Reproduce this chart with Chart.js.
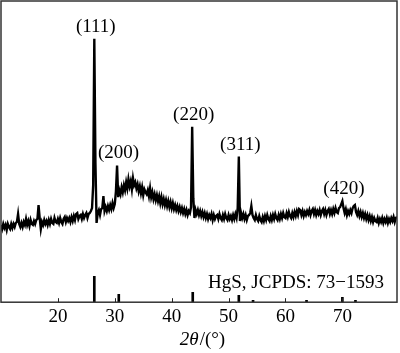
<!DOCTYPE html>
<html><head><meta charset="utf-8">
<script src="https://cdn.jsdelivr.net/npm/chart.js@4"></script>
<style>html,body{margin:0;padding:0;background:#fff}</style>
</head><body>
<canvas id="c" width="400" height="353"></canvas>
<script>
// 2-theta grid of the measured pattern
const angleStart = 10, angleStep = 0.2;
// measured intensity (a.u.), one value per 0.2 deg from 10 to 80 deg
const intensity = [
 78,74,79,75,78,73,79,76,74,79,
 75,79,76,80,81,89,79,76,80,76,
 81,78,84,78,82,77,83,79,78,82,
 79,83,84,98,85,74,81,78,83,79,
 82,78,83,79,84,80,79,85,81,80,
 84,80,85,81,79,84,86,81,85,82,
 85,81,86,82,87,83,89,90,84,87,
 88,84,89,85,88,90,85,89,90,92,
 95,118,266,140,80,90,93,88,94,95,
 107,92,96,92,97,93,98,94,100,95,
 99,112,138,106,113,109,116,111,118,113,
 121,115,124,117,122,114,125,118,121,115,
 119,112,117,110,116,108,114,111,109,113,
 107,115,106,111,104,109,103,108,102,107,
 100,106,99,104,98,103,97,102,96,101,
 95,100,94,98,93,97,92,96,91,95,
 90,94,89,93,88,92,90,96,177,105,
 85,93,89,93,88,92,87,91,86,90,
 85,89,84,88,85,89,83,88,84,87,
 88,84,89,85,83,88,84,89,85,83,
 88,84,87,83,88,84,89,85,95,147,
 82,90,85,89,84,88,83,87,88,90,
 97,88,85,83,88,84,82,87,83,81,
 86,82,87,83,88,84,82,87,83,88,
 84,89,85,83,88,84,89,85,90,86,
 85,90,86,91,87,85,90,86,91,87,
 92,88,94,93,88,92,87,91,88,92,
 89,93,88,92,94,89,93,88,92,89,
 93,88,92,94,89,93,88,92,94,89,
 93,89,94,90,95,91,90,95,96,99,
 102,95,90,94,88,92,89,93,90,95,
 97,98,91,88,92,87,91,86,90,85,
 89,84,88,83,87,82,86,81,85,82,
 81,85,80,84,81,85,80,84,81,85,
 80,84,81,85,82,86,81,85,86,82,
 85
];
// reference pattern HgS, JCPDS 73-1593 (stick positions and relative heights)
const refAngles  = [26.4, 30.7, 43.7, 51.8, 54.3, 63.7, 70.0, 72.3];
const refHeights = [26, 8, 10, 7, 2, 2, 5, 2];
// indexed reflections
const peakLabels = ['(111)', '(200)', '(220)', '(311)', '(420)'];
const peakAngles = [26.4, 30.4, 43.6, 51.8, 70.0];
// axis ticks
const xTicks = [20, 30, 40, 50, 60, 70];
const refLabel = 'HgS, JCPDS: 73\u22121593';

const pattern = intensity.map((v, i) => ({x: +(angleStart + i * angleStep).toFixed(1), y: v}));
const sticks = refAngles.map((a, i) => ({x: a, y: refHeights[i]}));

const SERIF = '"Liberation Serif", "Times New Roman", serif';

const decor = {
  id: 'decor',
  afterDraw(chart) {
    const ctx = chart.ctx, a = chart.chartArea;
    const xs = chart.scales.x, ys = chart.scales.y;
    ctx.save();
    // frame
    ctx.strokeStyle = '#333';
    ctx.lineWidth = 1.5;
    ctx.strokeRect(a.left, a.top, a.right - a.left, a.bottom - a.top);
    // inward ticks
    ctx.lineWidth = 1;
    ctx.strokeStyle = '#222';
    xTicks.forEach(t => {
      const px = Math.round(xs.getPixelForValue(t)) + 0.5;
      ctx.beginPath();
      ctx.moveTo(px, a.bottom);
      ctx.lineTo(px, a.bottom - 4);
      ctx.stroke();
    });
    // peak labels
    ctx.fillStyle = '#000';
    ctx.font = '19px ' + SERIF;
    ctx.textAlign = 'center';
    ctx.textBaseline = 'middle';
    peakLabels.forEach((lab, i) => {
      const idx = Math.round((peakAngles[i] - angleStart) / angleStep);
      const px = xs.getPixelForValue(peakAngles[i]) + 1.5;
      const py = ys.getPixelForValue(intensity[idx]) - 12;
      ctx.fillText(lab, px, py);
    });
    // reference label
    ctx.textAlign = 'right';
    ctx.fillText(refLabel, a.right - 13, a.bottom - 19);
    // axis title: italic 2θ + /(°)
    const p1 = '2\u03B8', p2 = '/(\u00B0)';
    ctx.font = 'italic 19px ' + SERIF;
    const w1 = ctx.measureText(p1).width;
    ctx.font = '19px ' + SERIF;
    const w2 = ctx.measureText(p2).width;
    const cx = 202, cy = 340;
    let x0 = cx - (w1 + w2) / 2;
    ctx.textAlign = 'left';
    ctx.font = 'italic 19px ' + SERIF;
    ctx.fillText(p1, x0, cy);
    ctx.font = '19px ' + SERIF;
    ctx.fillText(p2, x0 + w1 + 1, cy);
    ctx.restore();
  }
};

new Chart(document.getElementById('c'), {
  data: {
    datasets: [
      {type: 'line', data: pattern, borderColor: '#000', borderWidth: 2.4, pointRadius: 0, tension: 0, fill: false},
      {type: 'bar', data: sticks, backgroundColor: '#000', borderWidth: 0, barThickness: 2, grouped: false}
    ]
  },
  options: {
    responsive: false,
    devicePixelRatio: 1,
    animation: false,
    layout: {padding: {left: 1, top: 1, right: 3, bottom: 22}},
    plugins: {legend: {display: false}, tooltip: {enabled: false}},
    scales: {
      x: {
        type: 'linear', min: 10, max: 79.6, offset: false,
        afterBuildTicks: s => { s.ticks = xTicks.map(v => ({value: v})); },
        ticks: {color: '#000', font: {family: SERIF, size: 19}, padding: 3, maxRotation: 0, autoSkip: false},
        grid: {display: false, drawTicks: false, offset: false},
        border: {display: false}
      },
      y: {min: 0, max: 304, display: false}
    }
  },
  plugins: [decor]
});
</script>
</body></html>
